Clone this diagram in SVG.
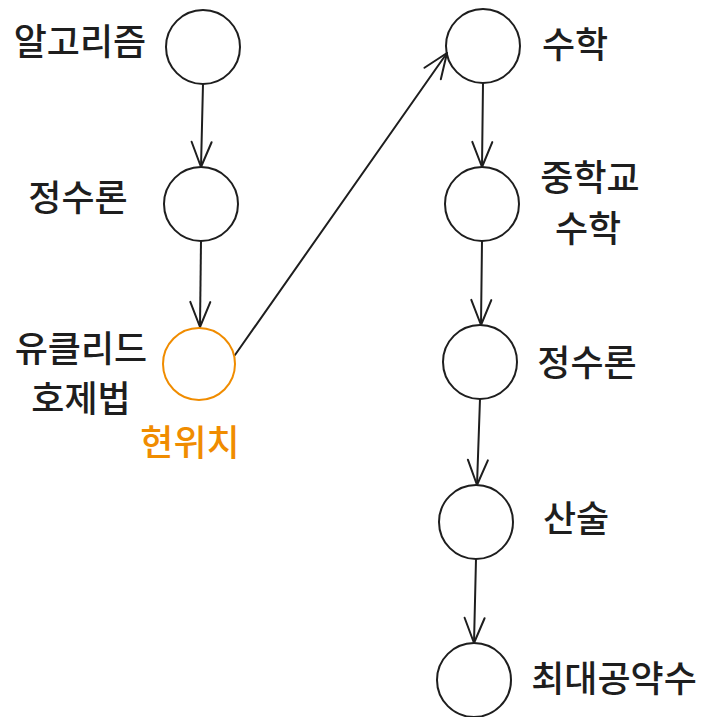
<svg xmlns="http://www.w3.org/2000/svg" width="703" height="717" viewBox="0 0 703 717">
<defs>
<style>
.n{fill:none;stroke:#1e1e1e;stroke-width:2}
.cur{fill:none;stroke:#f08c00;stroke-width:2}
.e{fill:none;stroke:#1e1e1e;stroke-width:2;stroke-linecap:round}
.t{font-family:"Noto Sans CJK KR","Noto Sans",sans-serif;font-size:36px;font-weight:500;fill:#1e1e1e;text-anchor:middle}
.to{fill:#f08c00}
</style>
<marker id="ah" markerUnits="userSpaceOnUse" markerWidth="30" markerHeight="24" refX="26" refY="10" orient="auto" overflow="visible">
<path d="M1,0 L26,10 L1,20" fill="none" stroke="#1e1e1e" stroke-width="2" stroke-linecap="round" stroke-linejoin="round"/>
</marker>
</defs>
<rect width="703" height="717" fill="#ffffff"/>
<g id="connectors">
<path class="e" d="M203,84 L201,167" marker-end="url(#ah)"/>
<path class="e" d="M201,241 L200,327" marker-end="url(#ah)"/>
<path class="e" d="M235,355 L447,53" marker-end="url(#ah)"/>
<path class="e" d="M483,83 L482,167" marker-end="url(#ah)"/>
<path class="e" d="M482,241 L481,325" marker-end="url(#ah)"/>
<path class="e" d="M480,399 L477,485" marker-end="url(#ah)"/>
<path class="e" d="M476,559 L474,643" marker-end="url(#ah)"/>
</g>
<g id="n-algorithm">
<circle class="n" cx="203" cy="47" r="37"/>
<text class="t" x="80" y="55">알고리즘</text>
</g>
<g id="n-number-theory-left">
<circle class="n" cx="201" cy="204" r="37"/>
<text class="t" x="78" y="211">정수론</text>
</g>
<g id="n-euclid">
<circle class="cur" cx="199" cy="364" r="36"/>
<text class="t" x="81" y="362">유클리드</text>
<text class="t" x="81" y="412">호제법</text>
<text class="t to" x="190" y="456">현위치</text>
</g>
<g id="n-math">
<circle class="n" cx="483" cy="46" r="37"/>
<text class="t" x="575" y="58">수학</text>
</g>
<g id="n-middle-math">
<circle class="n" cx="482" cy="204" r="37"/>
<text class="t" x="590" y="191">중학교</text>
<text class="t" x="588" y="242">수학</text>
</g>
<g id="n-number-theory-right">
<circle class="n" cx="480" cy="362" r="37"/>
<text class="t" x="587" y="376">정수론</text>
</g>
<g id="n-arithmetic">
<circle class="n" cx="476" cy="522" r="37"/>
<text class="t" x="576" y="532">산술</text>
</g>
<g id="n-gcd">
<circle class="n" cx="474" cy="680" r="37"/>
<text class="t" x="614" y="692">최대공약수</text>
</g>
</svg>
